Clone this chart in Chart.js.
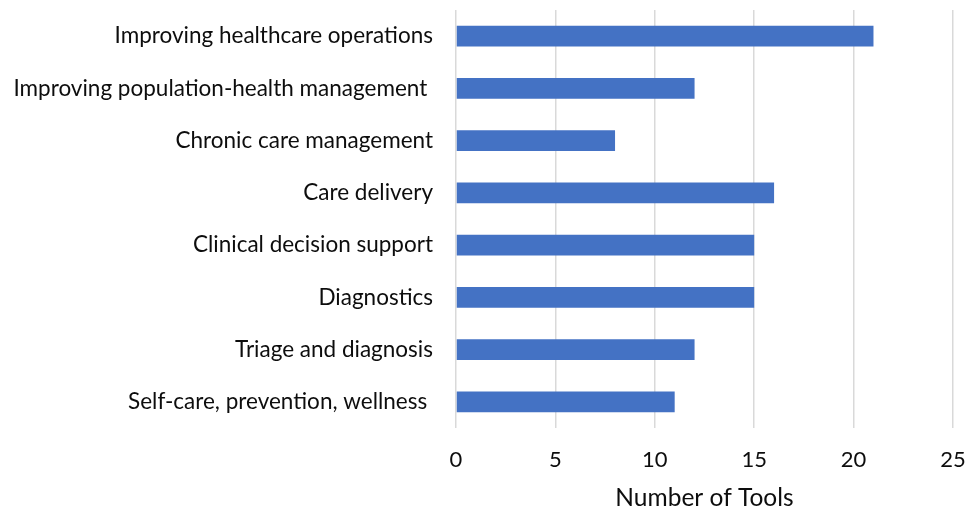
<!DOCTYPE html>
<html>
<head>
<meta charset="utf-8">
<script src="https://cdn.jsdelivr.net/npm/chart.js@4/dist/chart.umd.min.js"></script>
<style>
    html, body { margin: 0; padding: 0; background: #ffffff; }
    #wrap { width: 969px; height: 509px; }
</style>
</head>
<body>
<div id="wrap"><canvas id="toolsChart"></canvas></div>
<script>
/* ==========================================
   Tools by application area
========================================== */

const categories = [
    "Improving healthcare operations",
    "Improving population-health management ",
    "Chronic care management",
    "Care delivery",
    "Clinical decision support",
    "Diagnostics",
    "Triage and diagnosis",
    "Self-care, prevention, wellness "
];

const toolCounts = [21, 12, 8, 16, 15, 15, 12, 11];

const xTicks = [0, 5, 10, 15, 20, 25];

const ctx = document.getElementById("toolsChart").getContext("2d");

new Chart(ctx, {

    type: "bar",

    data: {
        labels: categories,
        datasets: [{
            label: "Number of Tools",
            data: toolCounts,
            backgroundColor: "#4472C4",
            borderWidth: 0,
            barPercentage: 0.4,
            categoryPercentage: 1
        }]
    },

    options: {

        indexAxis: "y",
        responsive: true,
        maintainAspectRatio: false,
        animation: false,

        layout: {
            padding: { top: 10, right: 16, bottom: 0, left: 0 }
        },

        plugins: {
            legend: { display: false },
            tooltip: { enabled: false }
        },

        scales: {

            x: {
                min: xTicks[0],
                max: xTicks[xTicks.length - 1],
                afterBuildTicks: (scale) => {
                    scale.ticks = xTicks.map(v => ({ value: v }));
                },
                afterFit: (scale) => {
                    scale.height = 81;
                    scale.paddingLeft = 0;
                    scale.paddingRight = 0;
                },
                grid: {
                    color: "#d9d9d9",
                    lineWidth: 1.5,
                    drawTicks: false
                },
                border: { display: false },
                ticks: {
                    padding: 19,
                    color: "#0d0d0d",
                    font: { family: "Lato", size: 22 }
                },
                title: {
                    display: true,
                    text: "Number of Tools",
                    color: "#0d0d0d",
                    padding: { top: 0, bottom: 0 },
                    font: { family: "Lato", size: 24.5, lineHeight: 0.85 }
                }
            },

            y: {
                afterFit: (scale) => {
                    scale.width = 456;
                    scale.paddingTop = 0;
                    scale.paddingBottom = 0;
                },
                grid: { display: false },
                border: { display: false },
                ticks: {
                    padding: 15,
                    color: "#0d0d0d",
                    font: { family: "Lato", size: 22.5 }
                }
            }

        }

    }

});
</script>
</body>
</html>
